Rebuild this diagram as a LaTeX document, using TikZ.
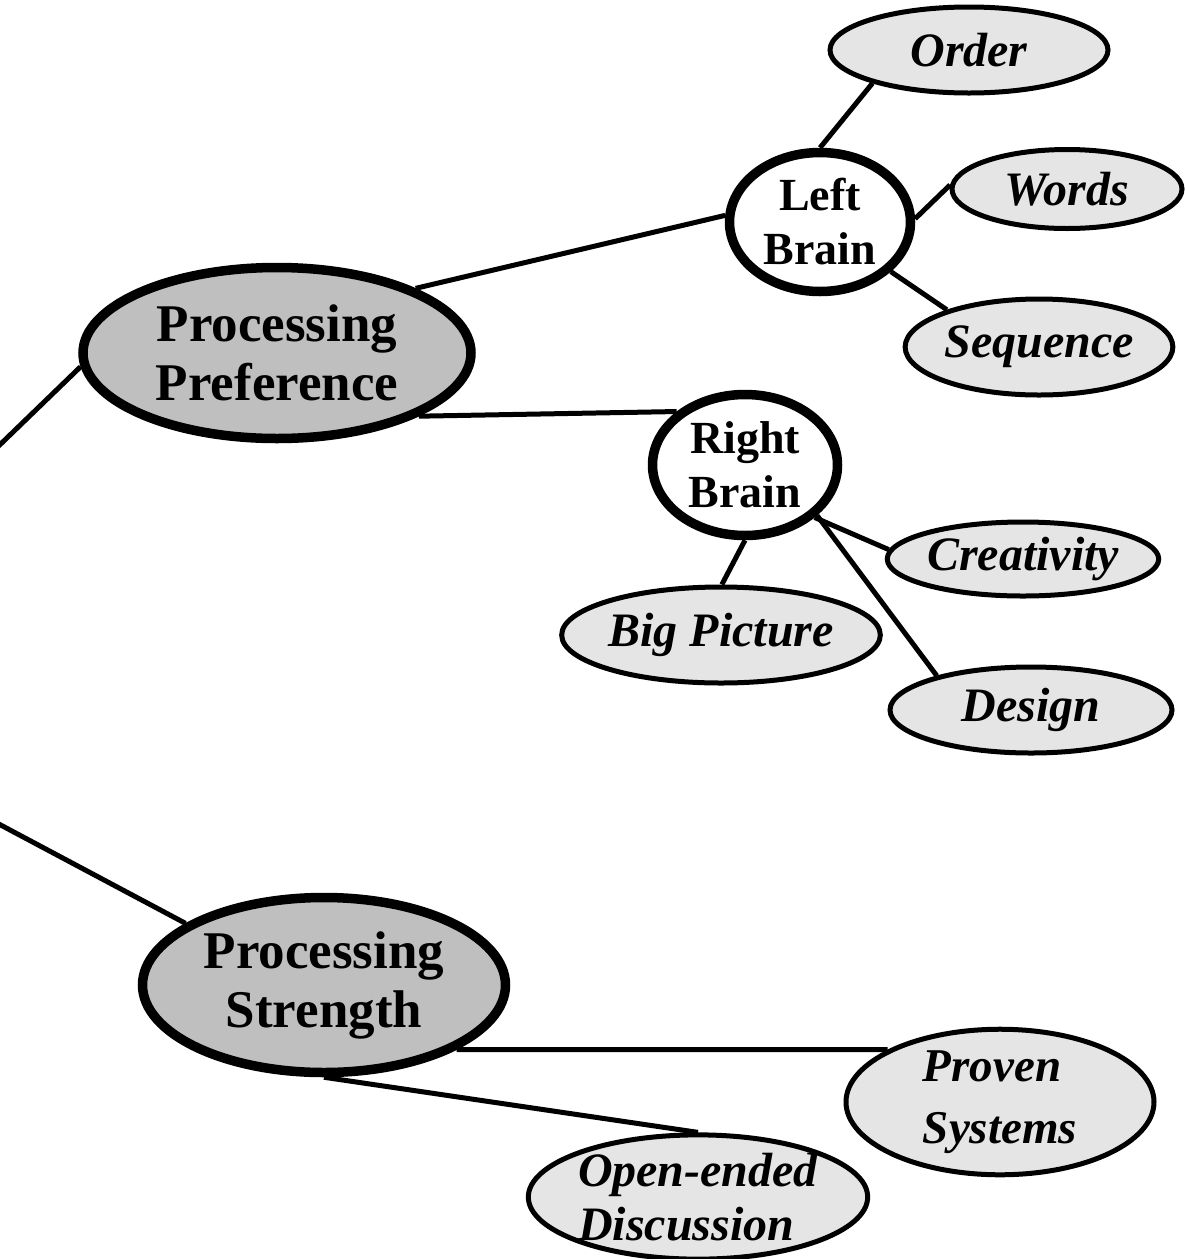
\documentclass[tikz,border=0pt]{standalone}
\usepackage{fontspec}
\setmainfont{Liberation Serif}
\usetikzlibrary{shapes.geometric}
\begin{document}
\begin{tikzpicture}[x=1pt,y=-1pt,inner sep=0pt,
  main/.style={ellipse,draw,line width=9.5pt,fill=black!25,font=\fontsize{53}{59}\selectfont\bfseries,align=center},
  brain/.style={ellipse,draw,line width=9.5pt,fill=white,font=\fontsize{46}{54}\selectfont\bfseries,align=center},
  leaf/.style={ellipse,draw,line width=5pt,fill=black!10,font=\fontsize{48}{54}\selectfont\bfseries\itshape,align=center},
  link/.style={line width=5pt}]
\useasboundingbox (0,0) rectangle (1184,1259);
\node[main,minimum width=388,minimum height=171] (pp) at (277,353) {Processing\\Preference};
\node[main,minimum width=363,minimum height=175] (ps) at (324,985) {Processing\\Strength};
\node[brain,minimum width=181,minimum height=139] (lb) at (820,222) {Left\\Brain};
\node[brain,minimum width=185,minimum height=141] (rb) at (745,465) {Right\\Brain};
\node[leaf,minimum width=278,minimum height=86] (order) at (969,50) {Order};
\node[leaf,minimum width=230,minimum height=79] (words) at (1067,189) {Words};
\node[leaf,minimum width=264,minimum height=96] (seq) at (1039,347) {Sequence};
\node[leaf,minimum width=266,minimum height=74] (creat) at (1023,559) {Creativity};
\node[leaf,minimum width=298,minimum height=96] (bigpic) at (721,635) {Big Picture};
\node[leaf,minimum width=282,minimum height=86] (design) at (1031,710) {Design};
\node[leaf,minimum width=308,minimum height=108,align=left,font=\fontsize{47}{62}\selectfont\bfseries\itshape] (proven) at (1000,1102) {Proven\\Systems};
\node[leaf,minimum width=339,minimum height=111,align=left] (open) at (698,1197) {Open-ended\\Discussion};
% loose ends off the left edge
\coordinate (up) at (-20,464);
\coordinate (down) at (-20,814);
\draw[link] (up) -- (pp.184);
\draw[link] (down) -- (ps.156);
\draw[link] (pp.25) -- (lb.176);
\draw[link] (pp.-24) -- (rb.142);
\draw[link] (lb.90) -- (order.199);
\draw[link] (lb.2) -- (words.178);
\draw[link] (lb.-35) -- (seq.158);
\draw[link] (rb.-90) -- (bigpic.89);
\draw[link] (rb.-37) -- (creat.176);
\draw[link] (rb.-35) -- (design.160);
\draw[link] (ps.-26) -- (proven.155);
\draw[link] (ps.-90) -- (open.90);
\end{tikzpicture}
\end{document}
